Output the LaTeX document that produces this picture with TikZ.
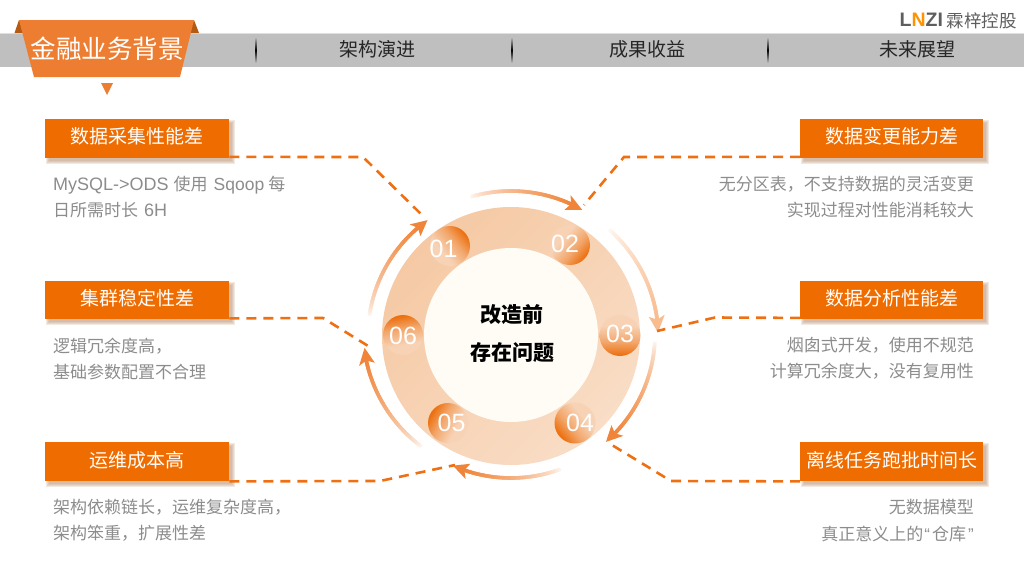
\documentclass[tikz,border=0pt]{standalone}
\usepackage{fontspec}
\setmainfont{Noto Sans CJK SC}
\newfontfamily\lat{Liberation Sans}
\definecolor{boxorange}{HTML}{EE6C00}
\definecolor{tabfill}{HTML}{ED7D31}
\definecolor{tabdark}{HTML}{B55A12}
\definecolor{bandgray}{HTML}{BFBFBF}
\definecolor{dashorange}{HTML}{EE7012}
\definecolor{greytext}{HTML}{8C8C8C}
\definecolor{arrowA}{HTML}{F0853A}
\definecolor{arrowB}{HTML}{F8BC8E}
\definecolor{logogray}{HTML}{5E5E5E}
\definecolor{ringpale}{HTML}{F9DDC6}
\definecolor{ringmid}{HTML}{F7D2B4}
\definecolor{ringdark}{HTML}{F5C9A4}
\definecolor{numorange}{HTML}{EC7010}
\definecolor{corefill}{HTML}{FFFCF5}
\definecolor{shadowc}{HTML}{B98F70}
\pgfdeclareverticalshading{numsh}{100bp}{color(0bp)=(ringmid); color(38bp)=(ringmid); color(58bp)=(ringmid!55!numorange); color(74bp)=(numorange); color(100bp)=(numorange)}
\tikzset{
  boxn/.style={fill=boxorange,text=white,inner sep=0pt,anchor=north west,font=\fontsize{19}{19}\selectfont,align=center,text height=15.5pt,text depth=4.5pt},
  linkn/.style={draw=dashorange,line width=2.6pt,dash pattern=on 10pt off 7pt},
  desc/.style={text=greytext,inner sep=0pt,font=\fontsize{17}{17}\selectfont},
  menu/.style={text=black!85,inner sep=0pt,font=\fontsize{19}{19}\selectfont},
  numc/.style={shading=numsh,shading angle=#1},
  numt/.style={text=white,inner sep=0pt,font=\lat\fontsize{25}{25}\selectfont},
  mid/.style={text=black,inner sep=0pt,font=\bfseries\fontsize{21}{21}\selectfont}
}
\newcommand\softshadow[4]{%
  \foreach \k in {3,2,1,0}{\fill[shadowc,opacity=.2] (#1+4-\k,#2+4-\k) rectangle (#3+3+\k,#4+3+\k);}}
\newcommand\gradarc[5]{%
  \foreach \i in {0,...,59}{%
    \pgfmathsetmacro\tA{\i/60}\pgfmathsetmacro\tB{min(1,(\i+2)/60)}%
    \pgfmathsetmacro\pc{100*pow(\tA,0.6)}%
    \pgfmathsetmacro\aA{#1+(#2+5-#1)*\tA}\pgfmathsetmacro\aB{#1+(#2+5-#1)*\tB}%
    \pgfmathsetmacro\rA{#3+(#4-#3)*\tA}\pgfmathsetmacro\rB{#3+(#4-#3)*\tB}%
    \draw[line width=3.6pt,color=#5!\pc!white] ({511+\rA*cos(\aA)},{335-\rA*sin(\aA)}) -- ({511+\rB*cos(\aB)},{335-\rB*sin(\aB)});}%
  \fill[#5] ({511+#4*cos(#2)},{335-#4*sin(#2)}) -- ({511+(#4+8)*cos(#2+6.5)},{335-(#4+8)*sin(#2+6.5)}) -- ({511+#4*cos(#2+5)},{335-#4*sin(#2+5)}) -- ({511+(#4-8)*cos(#2+6.5)},{335-(#4-8)*sin(#2+6.5)}) -- cycle;}
\begin{document}
\begin{tikzpicture}[x=1pt,y=-1pt]
\useasboundingbox (0,0) rectangle (1024,576);
% header band
\fill[bandgray] (0,33) rectangle (1024,67);
\fill[white!50!bandgray] (0,33) rectangle (1024,34);
\foreach \sx in {256,512,768}{\shade[top color=bandgray,bottom color=bandgray,middle color=black] (\sx-.6,37) rectangle (\sx+.6,63);}
% tab
\fill[tabdark] (19,20) -- (14.5,33) -- (25,33) -- cycle;
\fill[tabdark] (194,20) -- (199,33) -- (189,33) -- cycle;
\fill[tabfill] (19,20) -- (194,20) -- (180,77) -- (34,77) -- cycle;
\fill[tabfill] (101,83) -- (113,83) -- (107,95) -- cycle;
\node[text=white,inner sep=0pt,font=\fontsize{25.5}{25.5}\selectfont] (title) at (107,48.5) {金融业务背景};
\node[menu] (m1) at (377,49) {架构演进};
\node[menu] (m2) at (647,49) {成果收益};
\node[menu] (m3) at (917,49) {未来展望};
% logo
\node[anchor=west,inner sep=0pt,text=logogray,font=\lat\bfseries\fontsize{19.5}{19.5}\selectfont] (logoa) at (899.5,20) {L\textcolor{orange!85!yellow}{N}ZI};
\node[anchor=east,inner sep=0pt,text=logogray,font=\fontsize{17.5}{17.5}\selectfont] (logob) at (1017,21) {霖梓控股};
% ring
\shade[top color=ringdark,bottom color=ringpale,shading angle=45] (511,336) circle (129);
\fill[corefill] (511,335) circle (87);
\shade[numc=-50] (450,246) circle (20);
\shade[numc=-130] (570,245) circle (20);
\shade[numc=180] (620,335.5) circle (20.5);
\shade[numc=130] (575,423) circle (20.5);
\shade[numc=60] (448,423) circle (20);
\shade[numc=10] (403,335) circle (20);
\node[numt] (n1) at (443.5,249) {01};
\node[numt] (n2) at (565,243.5) {02};
\node[numt] (n3) at (620,333.5) {03};
\node[numt] (n4) at (580,423) {04};
\node[numt] (n5) at (451.5,423) {05};
\node[numt] (n6) at (403,335.5) {06};
\node[mid] (c1) at (512,315) {改造前};
\node[mid] (c2) at (512,353) {存在问题};
% arcs
\gradarc{107}{60.4}{144}{144}{arrowA}
\gradarc{48}{1}{144}{147}{arrowB}
\gradarc{-2}{-48.4}{144}{143}{arrowA}
\gradarc{-69}{-114}{143}{143}{arrowA}
\gradarc{-128}{-175}{143}{147}{arrowA}
\gradarc{173}{126}{143}{142}{arrowA}
% boxes
\softshadow{45}{119}{229}{157.5}
\softshadow{45}{280.5}{229}{319}
\softshadow{45}{442}{229}{481}
\softshadow{800}{119}{983}{157.5}
\softshadow{800}{280.5}{983}{319}
\softshadow{800}{442}{983}{481}
\node[boxn,minimum width=184pt,minimum height=38.5pt] (b1) at (45,119) {数据采集性能差};
\node[boxn,minimum width=184pt,minimum height=38.5pt] (b2) at (45,280.5) {集群稳定性差};
\node[boxn,minimum width=184pt,minimum height=39pt] (b3) at (45,442) {运维成本高};
\node[boxn,minimum width=183pt,minimum height=38.5pt] (b4) at (800,119) {数据变更能力差};
\node[boxn,minimum width=183pt,minimum height=38.5pt] (b5) at (800,280.5) {数据分析性能差};
\node[boxn,minimum width=183pt,minimum height=39pt] (b6) at (800,442) {离线任务跑批时间长};
% connectors
\coordinate (k1) at (363,157);
\coordinate (e1) at (425,218);
\coordinate (k2) at (323,318);
\coordinate (e2) at (373,349);
\coordinate (k3) at (380,481);
\coordinate (e3) at (455,465);
\coordinate (k4) at (624,157);
\coordinate (e4) at (584,205);
\coordinate (k5) at (715,317.5);
\coordinate (e5) at (657,331);
\coordinate (k6) at (671,481);
\coordinate (e6) at (607,442);
\draw[linkn] ([yshift=1pt]b1.south east) -- (k1) -- (e1);
\draw[linkn] ([yshift=1pt]b2.south east) -- (k2) -- (e2);
\draw[linkn] (b3.south east) -- (k3) -- (e3);
\draw[linkn] ([yshift=1pt]b4.south west) -- (k4) -- (e4);
\draw[linkn] ([yshift=1.5pt]b5.south west) -- (k5) -- (e5);
\draw[linkn] (b6.south west) -- (k6) -- (e6);
% descriptions
\node[desc,anchor=west] (d1a) at (53,185) {{\lat\fontsize{18}{18}\selectfont MySQL->ODS}\hspace{5pt}使用\hspace{6pt}{\lat\fontsize{17.5}{17.5}\selectfont Sqoop}\hspace{4pt}每};
\node[desc,anchor=west] (d1b) at (53,210.5) {日所需时长\hspace{6pt}{\lat\fontsize{18}{18}\selectfont 6H}};
\node[desc,anchor=west] (d2a) at (53,346) {逻辑冗余度高，};
\node[desc,anchor=west] (d2b) at (53,372) {基础参数配置不合理};
\node[desc,anchor=west] (d3a) at (53,507) {架构依赖链长，运维复杂度高，};
\node[desc,anchor=west] (d3b) at (53,533.5) {架构笨重，扩展性差};
\node[desc,anchor=east] (d4a) at (974,184.5) {无分区表，不支持数据的灵活变更};
\node[desc,anchor=east] (d4b) at (974,210.5) {实现过程对性能消耗较大};
\node[desc,anchor=east] (d5a) at (974,345.5) {烟囱式开发，使用不规范};
\node[desc,anchor=east] (d5b) at (974,371.5) {计算冗余度大，没有复用性};
\node[desc,anchor=east] (d6a) at (974,507) {无数据模型};
\node[desc,anchor=east] (d6b) at (974,533.5) {真正意义上的\hspace{1pt}{\lat “}\hspace{2pt}仓库\hspace{2pt}{\lat ”}};
\end{tikzpicture}
\end{document}
